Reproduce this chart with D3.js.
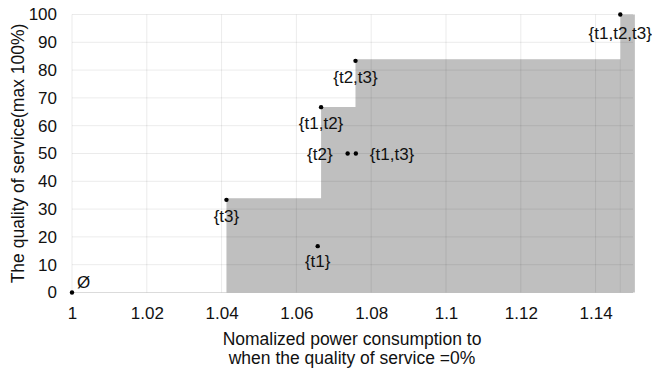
<!DOCTYPE html>
<html>
<head>
<meta charset="utf-8">
<script src="https://cdn.jsdelivr.net/npm/d3@7"></script>
<style>
  body { margin: 0; background: #fff; }
  svg { font-family: "Liberation Sans", Arial, sans-serif; }
</style>
</head>
<body>
<svg id="canvas" width="652" height="371"></svg>
<script>
var W = 652, H = 371;
var margin = {left: 72, right: 19, top: 14.5, bottom: 78.5};

// points: set label, normalized power, quality of service
var setNames = ['\u00d8', '{t3}', '{t1}', '{t2}', '{t1,t3}', '{t1,t2}', '{t2,t3}', '{t1,t2,t3}'];
var power    = [1, 1.0413, 1.0657, 1.0737, 1.0759, 1.0666, 1.0758, 1.1466];
var quality  = [0, 33.33, 16.67, 50, 50, 66.67, 83.33, 100];

// shaded region steps (frontier)
var stepPower   = [1.0413, 1.0666, 1.0758, 1.1466, 1.1505];
var stepQuality = [33.9, 66.7, 83.9, 100, 100];

var xTicks = [1, 1.02, 1.04, 1.06, 1.08, 1.1, 1.12, 1.14];
var yTicks = [0, 10, 20, 30, 40, 50, 60, 70, 80, 90, 100];

var svg = d3.select('#canvas');
var x = d3.scaleLinear().domain([1, 1.15]).range([margin.left, W - margin.right]);
var y = d3.scaleLinear().domain([0, 100]).range([H - margin.bottom, margin.top]);

// shaded area
var areaPts = [];
stepPower.forEach(function (p, i) {
  if (i > 0) areaPts.push([p, stepQuality[i - 1]]);
  areaPts.push([p, stepQuality[i]]);
});
var area = d3.area()
  .x(d => x(d[0]))
  .y0(y(0))
  .y1(d => y(d[1]));
svg.append('path')
  .datum(areaPts)
  .attr('d', area)
  .style('fill', '#bfbfbf');

// gridlines
var grid = svg.append('g').attr('class', 'grid');
grid.selectAll('.vg')
  .data(xTicks)
  .join('line')
  .attr('x1', d => x(d)).attr('x2', d => x(d))
  .attr('y1', y(0)).attr('y2', y(100))
  .style('stroke', '#000').style('stroke-opacity', 0.08);
grid.selectAll('.hg')
  .data(yTicks)
  .join('line')
  .attr('x1', x(1)).attr('x2', x(1.15))
  .attr('y1', d => y(d)).attr('y2', d => y(d))
  .style('stroke', '#000').style('stroke-opacity', d => d == 0 ? 0.14 : 0.08);
// edge of last step
svg.append('line')
  .attr('x1', x(stepPower[3])).attr('x2', x(stepPower[3]))
  .attr('y1', y(0)).attr('y2', y(stepQuality[2]))
  .style('stroke', '#000').style('stroke-opacity', 0.06);

// axes (labels only)
var xAxis = svg.append('g')
  .attr('transform', 'translate(0,' + y(0) + ')')
  .call(d3.axisBottom(x).tickValues(xTicks).tickSize(0).tickPadding(14)
    .tickFormat(d3.format('')));
var yAxis = svg.append('g')
  .attr('transform', 'translate(' + x(1) + ',0)')
  .call(d3.axisLeft(y).tickValues(yTicks).tickSize(0).tickPadding(15));
[xAxis, yAxis].forEach(function (a) {
  a.select('.domain').remove();
  a.selectAll('text')
    .style('font-family', '"Liberation Sans", Arial, sans-serif')
    .style('font-size', '17px')
    .style('fill', '#111');
});

// points
svg.selectAll('.pt')
  .data(setNames)
  .join('circle')
  .attr('class', 'pt')
  .attr('cx', (d, i) => x(power[i]))
  .attr('cy', (d, i) => y(quality[i]))
  .attr('r', 2.2)
  .style('fill', '#000');

// point labels: [dx, dy, anchor]
var labelPos = [[5, -5, 'start'], [0, 22, 'middle'], [0, 21, 'middle'], [-15, 6, 'end'],
                [14, 6, 'start'], [0, 22, 'middle'], [0, 22, 'middle'], [0, 24, 'middle']];
svg.selectAll('.lbl')
  .data(setNames)
  .join('text')
  .attr('class', 'lbl')
  .attr('x', (d, i) => x(power[i]) + labelPos[i][0])
  .attr('y', (d, i) => y(quality[i]) + labelPos[i][1])
  .attr('text-anchor', (d, i) => labelPos[i][2])
  .style('font-size', '17px')
  .style('fill', '#111')
  .text(d => d);

// axis titles
svg.append('text')
  .attr('transform', 'translate(24,' + ((y(0) + y(100)) / 2) + ') rotate(-90)')
  .attr('text-anchor', 'middle')
  .style('font-size', '17.5px')
  .style('fill', '#111')
  .text('The quality of service(max 100%)');
var xt = svg.append('text')
  .attr('text-anchor', 'middle')
  .style('font-size', '17.5px')
  .style('fill', '#111');
xt.append('tspan').attr('x', 352).attr('y', 345).text('Nomalized power consumption to');
xt.append('tspan').attr('x', 352).attr('y', 364).text('when the quality of service =0%');
</script>
</body>
</html>
